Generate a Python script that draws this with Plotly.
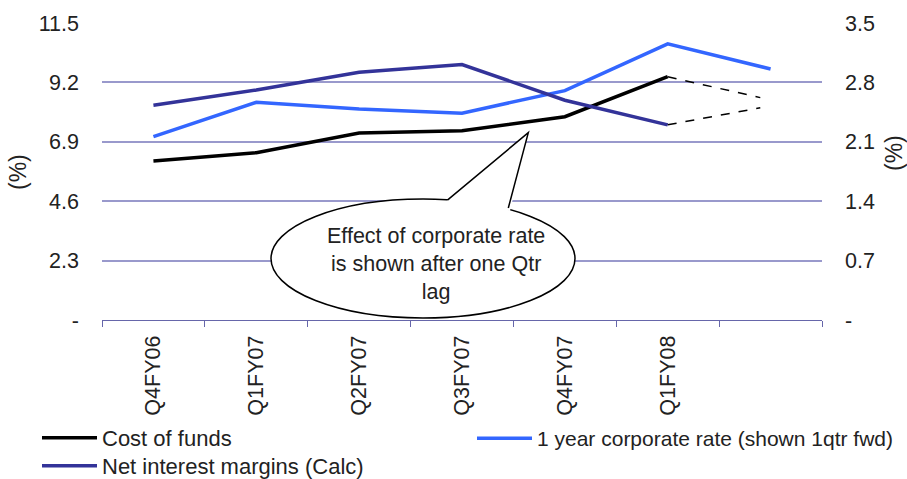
import plotly.graph_objects as go

# ---- data ----
categories = ["Q4FY06", "Q1FY07", "Q2FY07", "Q3FY07", "Q4FY07", "Q1FY08", ""]
cost_of_funds = [6.16, 6.48, 7.24, 7.33, 7.87, 9.42]
corp_rate = [7.10, 8.43, 8.17, 8.01, 8.88, 10.69, 9.72]
nim = [2.53, 2.71, 2.92, 3.01, 2.59, 2.30]
# dashed projection: from last actual point to an estimated level
proj_x_end = 5.9
cost_proj_end = 8.61
nim_proj_end = 2.50

left_ticks = [0, 2.3, 4.6, 6.9, 9.2, 11.5]
left_text = ["-", "2.3", "4.6", "6.9", "9.2", "11.5"]
right_ticks = [0, 0.7, 1.4, 2.1, 2.8, 3.5]
right_text = ["-", "0.7", "1.4", "2.1", "2.8", "3.5"]

FONT = "Liberation Sans, Arial, sans-serif"
TXT = "#222222"
BLACK = "#000000"
BLUE = "#3366FF"
NAVY = "#333399"
GRID = "#9999CC"
FS = 21.5

W, H = 907, 479
L, R, T, B = 102, 85, 23, 159
pw = W - L - R
ph = H - T - B

xs = list(range(len(categories)))

fig = go.Figure()
fig.add_trace(go.Scatter(x=xs[:len(cost_of_funds)], y=cost_of_funds, mode="lines",
                         name="Cost of funds", legend="legend",
                         line=dict(color=BLACK, width=3.5)))
fig.add_trace(go.Scatter(x=xs[:len(corp_rate)], y=corp_rate, mode="lines",
                         name="1 year corporate rate (shown 1qtr fwd)", legend="legend2",
                         line=dict(color=BLUE, width=3.5)))
fig.add_trace(go.Scatter(x=xs[:len(nim)], y=nim, mode="lines",
                         name="Net interest margins (Calc)", yaxis="y2", legend="legend3",
                         line=dict(color=NAVY, width=3.5)))
fig.add_trace(go.Scatter(x=[xs[len(cost_of_funds) - 1], proj_x_end],
                         y=[cost_of_funds[-1], cost_proj_end], mode="lines",
                         showlegend=False, line=dict(color=BLACK, width=1.5, dash="dash")))
fig.add_trace(go.Scatter(x=[xs[len(nim) - 1], proj_x_end],
                         y=[nim[-1], nim_proj_end], mode="lines", yaxis="y2",
                         showlegend=False, line=dict(color=BLACK, width=1.5, dash="dash")))

# ---- callout (pixel -> data helpers) ----
def dx(px):
    return (px - L) / pw * len(categories) - 0.5

def dy(py):
    return (T + ph - py) / ph * 11.5

ex0, ex1, ey0, ey1 = 271, 575, 199, 318
shapes = [
    dict(type="circle", xref="x", yref="y", x0=dx(ex0), x1=dx(ex1), y0=dy(ey1), y1=dy(ey0),
         fillcolor="white", line=dict(color="black", width=1.5), layer="above"),
    dict(type="path", xref="x", yref="y",
         path=f"M{dx(446)},{dy(202)} L{dx(528.3)},{dy(132.7)} L{dx(510)},{dy(211)} Z",
         fillcolor="white", line=dict(width=0), layer="above"),
    dict(type="path", xref="x", yref="y",
         path=f"M{dx(447.7)},{dy(199.8)} L{dx(528.3)},{dy(132.7)} L{dx(508.3)},{dy(208)}",
         line=dict(color="black", width=1.5), layer="above"),
]

annotations = [
    dict(xref="x", yref="y", x=dx(436), y=dy(264), showarrow=False,
         text="Effect of corporate rate<br>is shown after one Qtr<br>lag",
         font=dict(family=FONT, size=FS, color=TXT), align="center"),
    dict(xref="paper", yref="paper", x=(18 - L) / pw, y=(T + ph - 172) / ph,
         xanchor="center", yanchor="middle",
         showarrow=False, text="(%)", textangle=-90,
         font=dict(family=FONT, size=23, color=TXT)),
    dict(xref="paper", yref="paper", x=(894 - L) / pw, y=(T + ph - 153) / ph,
         xanchor="center", yanchor="middle",
         showarrow=False, text="(%)", textangle=-90,
         font=dict(family=FONT, size=23, color=TXT)),
]

def leg(xpx, ytop, size):
    return dict(orientation="h", xref="container", yref="container",
                x=xpx / W, y=1 - ytop / H, xanchor="left", yanchor="top",
                itemwidth=55, tracegroupgap=0,
                font=dict(size=size, color=TXT), bgcolor="rgba(0,0,0,0)")

fig.update_layout(
    width=W, height=H,
    margin=dict(l=L, r=R, t=T, b=B, autoexpand=False),
    paper_bgcolor="white", plot_bgcolor="white",
    font=dict(family=FONT, size=FS, color=TXT),
    shapes=shapes, annotations=annotations,
    xaxis=dict(range=[-0.5, len(categories) - 0.5], tickvals=xs, ticktext=categories,
               tickangle=-90, ticks="", showgrid=False, zeroline=False,
               showline=True, linecolor="#6666AA", linewidth=1,
               ticklabelstandoff=6, automargin=False,
               tickfont=dict(size=FS, color=TXT),
               minor=dict(tick0=-0.5, dtick=1, ticks="outside", ticklen=6,
                          tickcolor="#6666AA", showgrid=False)),
    yaxis=dict(range=[0, 11.5], tickvals=left_ticks, ticktext=left_text,
               showgrid=True, gridcolor=GRID, gridwidth=1.5, zeroline=False,
               showline=False, ticks="", ticklabelstandoff=22, automargin=False,
               tickfont=dict(size=FS, color=TXT)),
    yaxis2=dict(range=[0, 3.5], tickvals=right_ticks, ticktext=right_text,
                overlaying="y", side="right", showgrid=False, zeroline=False,
                showline=False, ticks="", ticklabelstandoff=22, automargin=False,
                tickfont=dict(size=FS, color=TXT)),
    legend=leg(37, 417, 22),
    legend2=leg(472, 418, 21),
    legend3=leg(37, 445, 22),
    showlegend=True,
)

fig.write_html("out.html")
